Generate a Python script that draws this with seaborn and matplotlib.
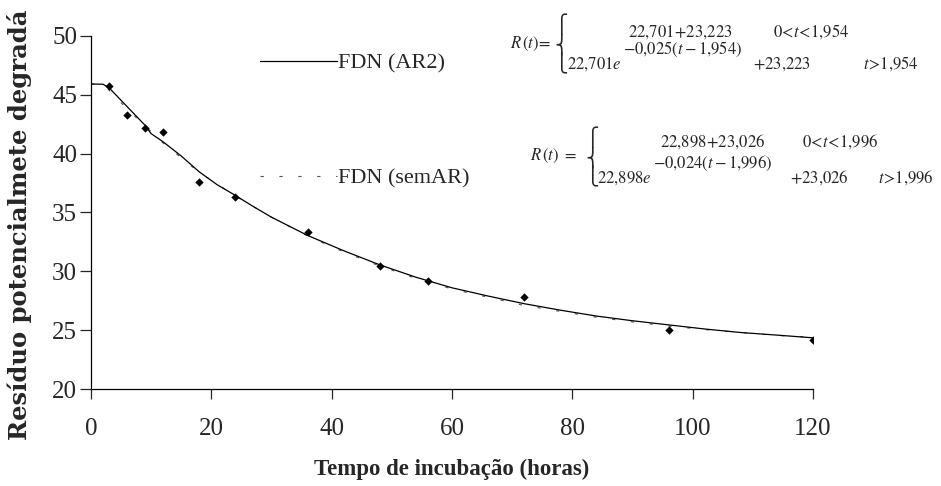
import numpy as np
import pandas as pd
import matplotlib
matplotlib.use("Agg")
import matplotlib.pyplot as plt
import seaborn as sns

# Observed residue (%) at each incubation time (h)
obs_time = [3, 6, 9, 12, 18, 24, 36, 48, 56, 72, 96, 120]
obs_value = [45.75, 43.3, 42.15, 41.8, 37.6, 36.3, 33.35, 30.45, 29.15, 27.8, 25.05, 24.2]

# Fitted curve with AR(2) errors
ar2_time = [0, 2, 3, 6, 9, 10, 12, 15, 18, 21, 24, 27, 30, 36, 42, 48, 54, 60,
            66, 72, 78, 84, 90, 96, 102, 108, 114, 120]
ar2_value = [45.92, 45.9, 45.6, 44.0, 42.4, 41.7, 41.0, 39.8, 38.45, 37.35, 36.45,
             35.5, 34.6, 33.05, 31.75, 30.55, 29.5, 28.6, 27.9, 27.25, 26.7, 26.2,
             25.8, 25.45, 25.1, 24.8, 24.58, 24.35]

# Fitted curve without autoregressive errors
sem_time = [0, 2, 6, 12, 18, 24, 30, 36, 42, 48, 54, 60, 66, 72, 78, 84, 90, 96,
            102, 108, 114, 120]
sem_value = [45.92, 45.92, 43.8, 40.9, 38.4, 36.4, 34.6, 33.0, 31.65, 30.45, 29.4,
             28.5, 27.8, 27.1, 26.6, 26.1, 25.7, 25.35, 25.05, 24.8, 24.55, 24.4]

x_ticks = [0, 20, 40, 60, 80, 100, 120]
y_ticks = [20, 25, 30, 35, 40, 45, 50]

sns.set_style("ticks")
plt.rcParams["font.family"] = ["Liberation Serif", "DejaVu Serif"]
plt.rcParams["mathtext.fontset"] = "stix"

W, H = 941, 486
fig = plt.figure(figsize=(W / 100, H / 100), dpi=100)
ax = fig.add_axes([91 / W, (H - 389) / H, (813 - 91) / W, (389 - 36) / H])

obs = pd.DataFrame({"t": obs_time, "r": obs_value})
ar2 = pd.DataFrame({"t": ar2_time, "r": ar2_value})
sem = pd.DataFrame({"t": sem_time, "r": sem_value})

sns.lineplot(data=sem, x="t", y="r", ax=ax, color="#555555", lw=0.8,
             label="FDN (semAR)", zorder=2)
ax.lines[-1].set_dashes((3, 14))
sns.lineplot(data=ar2, x="t", y="r", ax=ax, color="black", lw=0.9,
             label="FDN (AR2)", zorder=3)
sns.scatterplot(data=obs, x="t", y="r", ax=ax, marker="D", s=18,
                color="black", edgecolor="black", linewidth=0, zorder=4)

ax.set_xlim(0, 120)
ax.set_ylim(20, 50)
ax.set_xticks(x_ticks)
ax.set_yticks(y_ticks)
ax.set_xlabel("")
ax.set_ylabel("")
for s in ["top", "right"]:
    ax.spines[s].set_visible(False)
for s in ["left", "bottom"]:
    ax.spines[s].set_linewidth(0.9)
    ax.spines[s].set_color("black")
ax.tick_params(axis="x", length=7, width=0.9, pad=14, labelsize=18)
ax.tick_params(axis="y", length=8, width=0.9, pad=2, labelsize=18)

handles, labels = ax.get_legend_handles_labels()
order = [labels.index("FDN (AR2)"), labels.index("FDN (semAR)")]
leg = ax.legend([handles[i] for i in order], [labels[i] for i in order],
                loc="upper left", bbox_to_anchor=(260 / W, 1 - 53 / H),
                bbox_transform=fig.transFigure, frameon=False, fontsize=16,
                handlelength=3.45, handletextpad=0.05, labelspacing=4.25,
                borderpad=0, borderaxespad=0)

fig.text(20 / W, (H - 440) / H, "Resíduo potencialmete degradá", rotation=90,
         ha="center", va="bottom", fontsize=17.5, fontweight="bold",
         family="DejaVu Serif")
fig.text(452 / W, 1 - 469 / H, "Tempo de incubação (horas)", ha="center",
         va="center", fontsize=16.5, fontweight="bold")

# Piecewise model equations
eq_fs = 12


def put(x, y, s, **kw):
    fig.text(x / W, 1 - y / H, s, fontsize=kw.pop("fontsize", eq_fs),
             ha="left", va="baseline", **kw)


def brace(xc, yc):
    # curly brace assembled from its stacked pieces
    fig.text(xc / W, 1 - yc / H, "\u23a7\n\u23a8\n\u23a9",
             fontsize=13, family="DejaVu Sans", ha="center", va="center",
             linespacing=0.9, multialignment="center")


# model with AR(2) errors
put(510, 48, r"$R\,(t)\!=$")
brace(561, 44)
put(628, 37, r"$22{,}701\!+\!23{,}223$")
put(773, 37, r"$0\!<\!t\!<\!1{,}954$")
put(567, 69, r"$22{,}701e$")
put(623, 54, r"$-0{,}025(t-1{,}954)$")
put(753, 69, r"$+23{,}223$")
put(863, 69, r"$t\!>\!1{,}954$")

# model without autoregressive errors
put(530, 160, r"$R\,(t)\ =$")
brace(592, 157)
put(660, 147, r"$22{,}898\!+\!23{,}026$")
put(802, 147, r"$0\!<\!t\!<\!1{,}996$")
put(597, 183, r"$22{,}898e$")
put(653, 168, r"$-0{,}024(t-1{,}996)$")
put(790, 183, r"$+23{,}026$")
put(878, 183, r"$t\!>\!1{,}996$")

fig.savefig("out.png", dpi=100)
